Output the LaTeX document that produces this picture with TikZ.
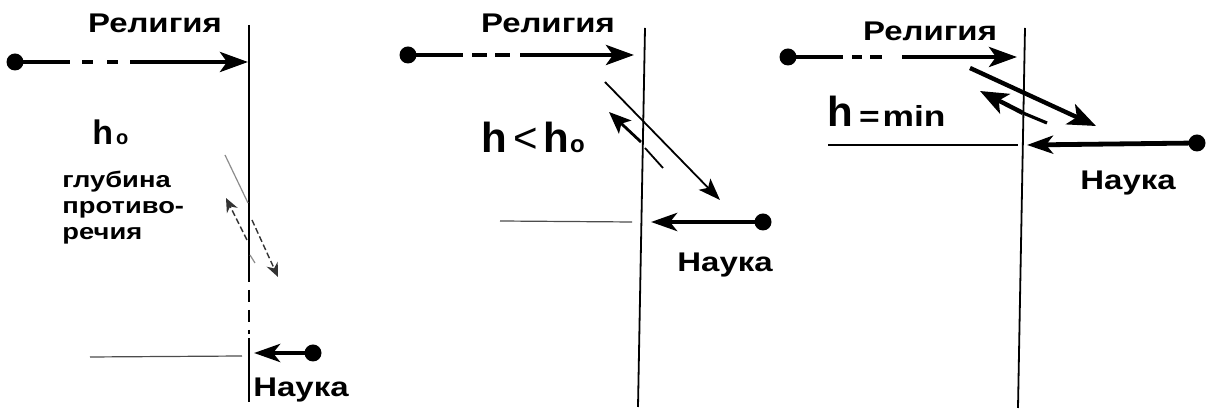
\documentclass[tikz,border=0pt]{standalone}
\usepackage{fontspec}
\setmainfont{Liberation Sans}
\newfontfamily\widefont{Liberation Sans}[FakeStretch=1.22]
\usetikzlibrary{arrows.meta}

\tikzset{
    word/.style={font=\widefont\bfseries\fontsize{13.5}{14}\selectfont, inner sep=0pt},
    note/.style={font=\widefont\bfseries\fontsize{11.2}{13}\selectfont, inner sep=0pt, align=left},
    hlabel/.style={font=\bfseries\fontsize{21}{21}\selectfont, inner sep=0pt},
    pole/.style={circle, fill, inner sep=0pt, minimum size=8.5pt},
    bound/.style={line width=0.9pt},
    level/.style={line width=0.6pt, black!70},
    relray/.style={line width=2.2pt, -{Stealth[length=14pt, width=10pt, inset=3.5pt]}},
    sciray/.style={line width=2.4pt, -{Stealth[length=13pt, width=9pt, inset=3.5pt]}},
    faintline/.style={line width=0.6pt, black!45},
    dashray/.style={line width=0.7pt, black!80, dash pattern=on 3pt off 1.5pt,
        -{Stealth[length=7pt, width=6pt]}},
}

\begin{document}
\begin{tikzpicture}[x=0.5pt, y=-0.5pt]
    \useasboundingbox (0,0) rectangle (1212,410);

    % ---- first picture: h_o
    \coordinate (b1top) at (249,25);
    \coordinate (b1a) at (249,270);
    \coordinate (b1b) at (249,334);
    \coordinate (b1c) at (249,338);
    \coordinate (b1bot) at (249,402);
    \draw[bound] (b1top) -- (b1a);
    \draw[bound, dash pattern=on 6pt off 4pt] (b1a) -- (b1b);
    \draw[bound] (b1c) -- (b1bot);

    \node[pole] (r1) at (15,62) {};
    \coordinate (r1tip) at (248,62);
    \draw[relray, dash pattern=on 27.5pt off 6pt on 5.5pt off 7pt on 5.5pt off 6pt on 200pt]
        (r1.center) -- (r1tip);
    \node[word, anchor=base] (rel1) at (155,33) {Религия};

    \node[hlabel, font=\bfseries\fontsize{17}{17}\selectfont, anchor=base west] (h1) at (92,145)
        {h\kern1.5pt{\fontsize{10}{10}\selectfont o}};
    \node[note, anchor=north west] (depth) at (62,171) {глубина\\противо-\\речия};

    \coordinate (i1a) at (225,155);
    \coordinate (i1b) at (248,203);
    \draw[faintline] (i1a) -- (i1b);
    \coordinate (t1a) at (252,220);
    \coordinate (t1b) at (278,277);
    \draw[dashray] (t1a) -- (t1b);
    \coordinate (f1a) at (247,240);
    \coordinate (f1b) at (226,198);
    \draw[dashray] (f1a) -- (f1b);
    \coordinate (k1a) at (250,255);
    \coordinate (k1b) at (255,263);
    \draw[faintline] (k1a) -- (k1b);

    \node[pole] (s1) at (313,353) {};
    \coordinate (s1tip) at (254,353);
    \draw[sciray] (s1.center) -- (s1tip);
    \coordinate (l1a) at (90,357);
    \coordinate (l1b) at (242,356);
    \draw[level] (l1a) -- (l1b);
    \node[word, anchor=base west] (sci1) at (253,397) {Наука};

    % ---- second picture: h < h_o
    \coordinate (b2top) at (645,28);
    \coordinate (b2bot) at (638,407);
    \draw[bound] (b2top) -- (b2bot);

    \node[pole] (r2) at (408,55) {};
    \coordinate (r2tip) at (634,55);
    \draw[relray, dash pattern=on 27.5pt off 4.5pt on 7.5pt off 4pt on 7.5pt off 5pt on 200pt]
        (r2.center) -- (r2tip);
    \node[word, anchor=base] (rel2) at (548,33) {Религия};

    \node[hlabel, anchor=base west] (h2) at (481,153)
        {h\kern3pt{\mdseries<}\kern3pt h\kern0.5pt{\fontsize{12}{12}\selectfont o}};

    \coordinate (i2a) at (605,82);
    \coordinate (i2b) at (720,200);
    \draw[line width=0.9pt, -{Stealth[length=11pt, width=8pt, inset=2.5pt]}] (i2a) -- (i2b);
    \coordinate (f2a) at (641,142);
    \coordinate (f2b) at (609,112);
    \draw[line width=1.4pt, -{Stealth[length=11pt, width=9pt, inset=2.5pt]}] (f2a) -- (f2b);
    \coordinate (k2a) at (645,148);
    \coordinate (k2b) at (663,168);
    \draw[line width=0.9pt] (k2a) -- (k2b);

    \node[pole] (s2) at (763,222) {};
    \coordinate (s2tip) at (651,222);
    \draw[sciray] (s2.center) -- (s2tip);
    \coordinate (l2a) at (500,221);
    \coordinate (l2b) at (632,222);
    \draw[level] (l2a) -- (l2b);
    \node[word, anchor=base west] (sci2) at (677,272) {Наука};

    % ---- third picture: h = min
    \coordinate (b3top) at (1025,28);
    \coordinate (b3bot) at (1018,408);
    \draw[bound] (b3top) -- (b3bot);

    \node[pole] (r3) at (788,57) {};
    \coordinate (r3tip) at (1017,57);
    \draw[relray, dash pattern=on 27.5pt off 4.5pt on 5pt off 4pt on 6pt off 10pt on 200pt]
        (r3.center) -- (r3tip);
    \node[word, anchor=base] (rel3) at (930,41) {Религия};

    \node[hlabel, anchor=base west] (h3) at (827,127)
        {h\kern3pt{\widefont\fontsize{14.5}{14.5}\selectfont =\kern1.5pt min}};

    \coordinate (i3a) at (970,68);
    \coordinate (i3b) at (1096,126);
    \draw[line width=2.2pt, -{Stealth[length=14pt, width=11pt, inset=3.5pt]}] (i3a) -- (i3b);
    \coordinate (f3a) at (1023,113);
    \coordinate (f3b) at (980,91);
    \draw[line width=2.2pt, -{Stealth[length=14pt, width=11pt, inset=3.5pt]}] (f3a) -- (f3b);
    \coordinate (k3b) at (1047,123);
    \draw[line width=1.6pt] (f3a) -- (k3b);

    \node[pole] (s3) at (1197,143) {};
    \coordinate (s3tip) at (1027,145);
    \draw[sciray] (s3.center) -- (s3tip);
    \coordinate (l3a) at (828,145);
    \coordinate (l3b) at (1018,145);
    \draw[line width=0.8pt] (l3a) -- (l3b);
    \node[word, anchor=base west] (sci3) at (1080,190) {Наука};
\end{tikzpicture}
\end{document}
